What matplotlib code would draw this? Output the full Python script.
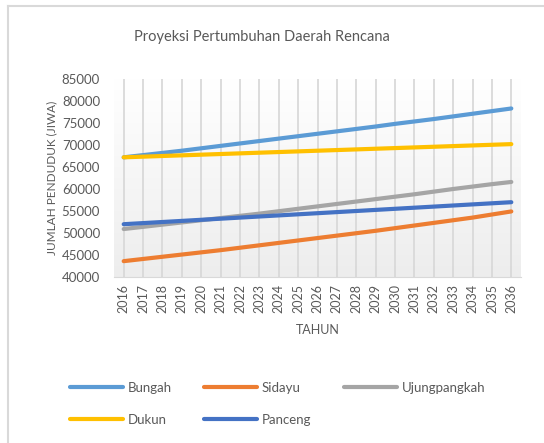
import numpy as np
import matplotlib
matplotlib.use("Agg")
import matplotlib.pyplot as plt
from matplotlib.lines import Line2D
from matplotlib.colors import LinearSegmentedColormap

plt.rcParams['font.family'] = ['Lato', 'DejaVu Sans']

years = [str(y) for y in range(2016, 2037)]

bungah = [67200, 67700, 68200, 68700, 69250, 69800, 70350, 70900, 71450, 72000, 72550,
          73100, 73650, 74200, 74800, 75350, 75900, 76500, 77100, 77700, 78300]
sidayu = [43600, 44100, 44600, 45100, 45600, 46100, 46650, 47200, 47750, 48300, 48850,
          49400, 49950, 50500, 51100, 51700, 52300, 52900, 53500, 54200, 54900]
ujungpangkah = [50900, 51400, 51900, 52400, 52900, 53400, 53900, 54400, 54950, 55500, 56050,
                56600, 57150, 57700, 58250, 58800, 59400, 60000, 60550, 61100, 61600]
dukun = [67200, 67350, 67500, 67650, 67800, 67950, 68100, 68250, 68400, 68550, 68700,
         68850, 69000, 69150, 69300, 69450, 69600, 69750, 69900, 70050, 70200]
panceng = [52000, 52250, 52500, 52750, 53000, 53250, 53500, 53750, 54000, 54250, 54500,
           54750, 55000, 55250, 55500, 55750, 56000, 56250, 56500, 56750, 57000]

series = [("Bungah", bungah, "#5B9BD5"),
          ("Sidayu", sidayu, "#ED7D31"),
          ("Ujungpangkah", ujungpangkah, "#A5A5A5"),
          ("Dukun", dukun, "#FFC000"),
          ("Panceng", panceng, "#4472C4")]

txt = "#595959"
W, H = 544, 443
fig = plt.figure(figsize=(W / 100, H / 100), dpi=100)
ax = fig.add_axes([114 / W, 1 - 277 / H, 407 / W, 198 / H])

# plot area gradient
cmap = LinearSegmentedColormap.from_list("bg", ["#ffffff", "#ededed"])
grad = np.linspace(0, 1, 256).reshape(-1, 1)
ax.imshow(grad, cmap=cmap, aspect="auto", extent=[0, 1, 0, 1],
          transform=ax.transAxes, origin="upper", zorder=0)

x = np.arange(len(years))
lines = {}
for name, vals, col in series:
    lines[name], = ax.plot(x, vals, color=col, lw=3.0, solid_capstyle="round",
                           label=name, zorder=3)

ax.set_xlim(-0.5, len(years) - 0.5)
ax.set_ylim(40000, 85000)
ax.set_yticks(range(40000, 85001, 5000))
ax.set_xticks(x)
ax.set_xticklabels(years, rotation=90)
ax.grid(axis="x", color="#d9d9d9", lw=1.3, zorder=1)
ax.set_axisbelow(True)
for s in ["top", "right", "left"]:
    ax.spines[s].set_visible(False)
ax.spines["bottom"].set_color("#d9d9d9")
ax.tick_params(axis="y", length=0, pad=10, labelsize=9.5, labelcolor=txt)
ax.tick_params(axis="x", length=0, pad=5, labelsize=9, labelcolor=txt)

ax.set_xlabel("TAHUN", fontsize=9, color=txt, labelpad=8)
ax.set_ylabel("JUMLAH PENDUDUK (JIWA)", fontsize=8.5, color=txt, labelpad=3)
fig.text(262 / W, 1 - 37 / H, "Proyeksi Pertumbuhan Daerah Rencana",
         ha="center", va="center", fontsize=10.5, color=txt)

# legend fills column-wise, so order entries to read row-wise like the original
order = ["Bungah", "Dukun", "Sidayu", "Panceng", "Ujungpangkah"]
handles = [Line2D([], [], color=lines[n].get_color(), lw=3.0, solid_capstyle="round")
           for n in order]
fig.legend(handles, order, loc="upper left", bbox_to_anchor=(58 / W, 1 - 370 / H),
           ncol=3, frameon=False, fontsize=9.5, handlelength=4.0, handletextpad=0.35,
           columnspacing=2.5, labelspacing=1.5, labelcolor=txt)

# chart frame
fig.add_artist(Line2D([8 / W, 1], [1 - 6 / H, 1 - 6 / H], color="#d9d9d9", lw=1.5))
fig.add_artist(Line2D([8 / W, 8 / W], [0, 1 - 6 / H], color="#d9d9d9", lw=1.5))

fig.savefig("out.png", dpi=100)
